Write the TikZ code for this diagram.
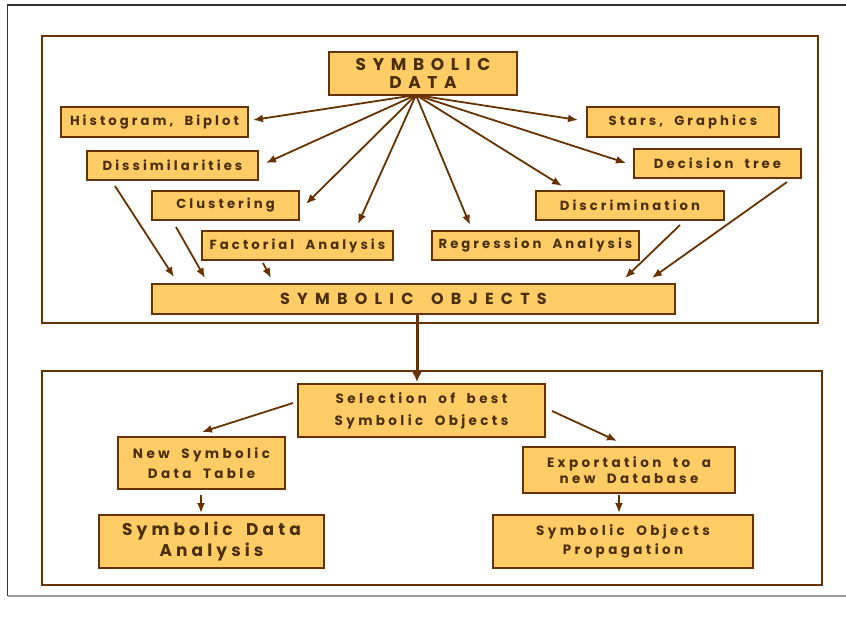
\documentclass[tikz,border=0pt]{standalone}
\usepackage{fontspec}
\setmainfont{Poppins}
\usetikzlibrary{arrows.meta}
\definecolor{boxfill}{HTML}{FFCC66}
\definecolor{brn}{HTML}{663300}
\definecolor{txt}{HTML}{4A2E05}
\newcommand{\lsp}[2]{\addfontfeature{LetterSpace=#1}\spaceskip=#2em\relax}
\tikzset{
  box/.style={draw=brn, fill=boxfill, line width=1.8pt, inner sep=0pt, text=txt, align=center},
  lbl/.style={font={\fontsize{13.2}{16}\selectfont\bfseries\lsp{23}{0.85}}},
  big/.style={font={\fontsize{17}{18}\selectfont\bfseries\lsp{39}{0.7}}},
  arr/.style={draw=brn, line width=1.8pt, -{Latex[length=10pt,width=8pt]}},
  frame/.style={draw=brn, line width=2.5pt},
}
\begin{document}
\begin{tikzpicture}[x=1pt,y=-1pt]
\useasboundingbox (0,0) rectangle (846,623);
% outer frame
\draw[line width=1.5pt, draw=black!80] (846,5) -- (7.5,5) -- (7.5,596);
\draw[line width=1.5pt, draw=black!40] (7.5,596) -- (846,596);
% section frames
\draw[frame] (42,36) rectangle (818,323);
\draw[frame] (42,371) rectangle (822,585);
% upper nodes
\node[box, big, minimum width=188, minimum height=43] (sd) at (423,73.5) {SYMBOLIC\\DATA};
\node[box, lbl, minimum width=187, minimum height=30] (hb) at (154.5,122) {Histogram, Biplot};
\node[box, lbl, minimum width=192, minimum height=30] (sg) at (683,122) {Stars, Graphics};
\node[box, lbl, minimum width=171, minimum height=29] (di) at (172.5,165.5) {Dissimilarities};
\node[box, lbl, minimum width=167, minimum height=29] (dt) at (717.5,163.5) {Decision tree};
\node[box, lbl, minimum width=147, minimum height=29] (cl) at (225.5,205.5) {Clustering};
\node[box, lbl, minimum width=188, minimum height=29] (dc) at (630,205.5) {Discrimination};
\node[box, lbl, minimum width=191, minimum height=29] (fa) at (297.5,245.5) {Factorial Analysis};
\node[box, lbl, minimum width=207, minimum height=29] (ra) at (535.5,245.5) {Regression Analysis};
\node[box, font={\fontsize{16}{18}\selectfont\bfseries\lsp{45}{1.1}}, minimum width=523, minimum height=30] (so) at (413.5,299) {SYMBOLIC OBJECTS};
% hub arrows
\coordinate (hub) at (416,95);
\coordinate (tHB) at (253,120);
\coordinate (tDI) at (266,163);
\coordinate (tCL) at (306,204);
\coordinate (tFA) at (358,224);
\coordinate (tRA) at (470,225);
\coordinate (tDC) at (562,186);
\coordinate (tDT) at (626,163);
\coordinate (tSG) at (578,120);
\foreach \t in {tHB,tDI,tCL,tFA,tRA,tDC,tDT,tSG}{\draw[arr] (hub) -- (\t);}
% arrows into symbolic objects
\coordinate (sDI) at (115,186); \coordinate (eDI) at (174,277);
\coordinate (sCL) at (176,227); \coordinate (eCL) at (205,278);
\coordinate (sFA) at (263,263); \coordinate (eFA) at (271,278);
\coordinate (sDC) at (680,225); \coordinate (eDC) at (625,278);
\coordinate (sDT) at (787,182); \coordinate (eDT) at (652,278);
\draw[arr] (sDI) -- (eDI);
\draw[arr] (sCL) -- (eCL);
\draw[arr] (sFA) -- (eFA);
\draw[arr] (sDC) -- (eDC);
\draw[arr] (sDT) -- (eDT);
% lower nodes
\node[box, font={\fontsize{13.5}{22}\selectfont\bfseries\lsp{25}{0.85}}, minimum width=247, minimum height=53] (sel) at (421.5,410.5) {Selection of best\\Symbolic Objects};
\node[box, font={\fontsize{13.5}{20}\selectfont\bfseries\lsp{25}{0.85}}, minimum width=167, minimum height=52] (nt) at (201.5,463) {New Symbolic\\Data Table};
\node[box, font={\fontsize{17}{21}\selectfont\bfseries\lsp{24}{0.8}}, minimum width=225, minimum height=53] (sda) at (211.5,541.5) {Symbolic Data\\Analysis};
\node[box, font={\fontsize{13.5}{16}\selectfont\bfseries\lsp{25}{0.85}}, minimum width=212, minimum height=46] (ex) at (629,470) {Exportation to a\\new Database};
\node[box, font={\fontsize{13.5}{19}\selectfont\bfseries\lsp{25}{0.85}}, minimum width=260, minimum height=53] (sop) at (623,541.5) {Symbolic Objects\\Propagation};
% big arrow
\coordinate (bA) at (417,315);
\coordinate (bB) at (417,382);
\draw[draw=brn, line width=3pt, -{Latex[length=11pt,width=11pt]}] (bA) -- (bB);
% lower arrows
\coordinate (l1) at (293,403); \coordinate (l2) at (202,432);
\coordinate (r1) at (552,411); \coordinate (r2) at (617,441);
\coordinate (d1) at (201,495); \coordinate (d2) at (201,513);
\coordinate (e1) at (619,495); \coordinate (e2) at (619,513);
\draw[arr] (l1) -- (l2);
\draw[arr] (r1) -- (r2);
\draw[arr] (d1) -- (d2);
\draw[arr] (e1) -- (e2);
\end{tikzpicture}
\end{document}
